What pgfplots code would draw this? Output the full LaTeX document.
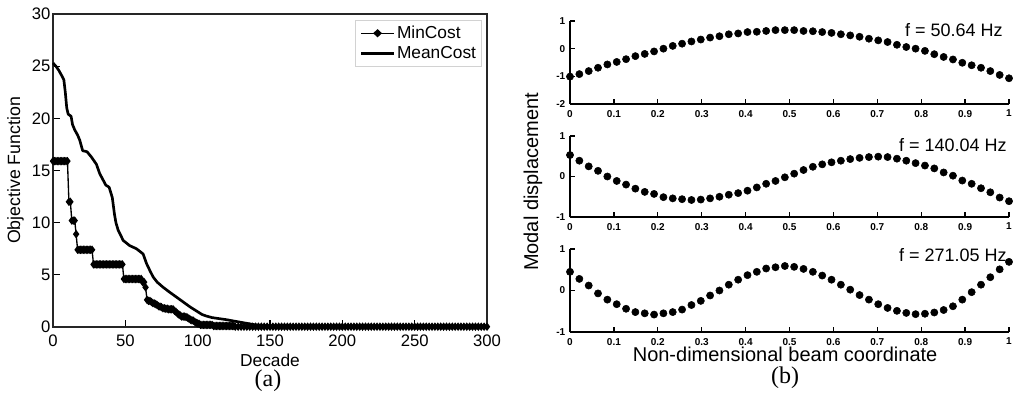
\documentclass[border=0pt]{standalone}
\usepackage{fontspec}
\setmainfont{Liberation Sans}
\newfontfamily\seriffont{Liberation Serif}
\usepackage{pgfplots}
\usepackage{pgfplotstable}
\pgfplotsset{compat=1.18}

\pgfplotstableread{
x m1 m2 m3
0 -1.01 0.53 0.45
0.0213 -0.92 0.39 0.28
0.0426 -0.81 0.25 0.12
0.0638 -0.69 0.14 -0.07
0.0851 -0.57 0.00 -0.22
0.1064 -0.48 -0.11 -0.33
0.1277 -0.38 -0.20 -0.44
0.1489 -0.27 -0.30 -0.52
0.1702 -0.19 -0.38 -0.55
0.1915 -0.10 -0.43 -0.58
0.2128 0.00 -0.51 -0.55
0.2340 0.10 -0.54 -0.52
0.2553 0.18 -0.56 -0.46
0.2766 0.26 -0.58 -0.35
0.2979 0.33 -0.57 -0.25
0.3191 0.40 -0.54 -0.12
0.3404 0.45 -0.50 0.00
0.3617 0.52 -0.45 0.14
0.3830 0.55 -0.41 0.26
0.4043 0.60 -0.35 0.37
0.4255 0.61 -0.27 0.45
0.4468 0.64 -0.18 0.53
0.4681 0.67 -0.11 0.56
0.4894 0.67 -0.02 0.59
0.5106 0.67 0.07 0.57
0.5319 0.64 0.16 0.52
0.5532 0.63 0.24 0.45
0.5745 0.60 0.30 0.36
0.5957 0.57 0.35 0.26
0.6170 0.52 0.39 0.14
0.6383 0.48 0.43 0.02
0.6596 0.43 0.46 -0.11
0.6809 0.36 0.48 -0.22
0.7021 0.30 0.49 -0.33
0.7234 0.24 0.48 -0.42
0.7447 0.14 0.44 -0.49
0.7660 0.06 0.39 -0.54
0.7872 0.00 0.33 -0.57
0.8085 -0.08 0.27 -0.56
0.8298 -0.20 0.20 -0.53
0.8511 -0.30 0.10 -0.47
0.8723 -0.39 0.02 -0.38
0.8936 -0.51 -0.10 -0.22
0.9149 -0.60 -0.18 -0.04
0.9362 -0.69 -0.29 0.14
0.9574 -0.81 -0.39 0.32
0.9787 -0.95 -0.52 0.51
1 -1.07 -0.61 0.69
}\modes

\pgfplotsset{
  beam/.style={
    scale only axis, width=329.25pt, height=62.25pt,
    xmin=0, xmax=1, clip=false,
    axis lines*=left,
    axis line style={line width=1.3pt},
    major tick style={line width=1pt, black},
    tick align=inside,
    major tick length=3.5pt,
    xtick={0,0.1,0.2,0.3,0.4,0.5,0.6,0.7,0.8,0.9,1},
    xticklabels={0,0.1,0.2,0.3,0.4,0.5,0.6,0.7,0.8,0.9,1},
    xticklabel style={font=\bfseries\fontsize{7.5}{8}\selectfont, yshift=-1pt},
    yticklabel style={font=\bfseries\fontsize{7.5}{8}\selectfont},
  },
  dots/.style={only marks, mark=*, mark size=2.7pt, black},
}
\tikzset{ftext/.style={anchor=east, inner sep=0pt, font=\fontsize{13.5}{15}\selectfont}}

\begin{document}
\begin{tikzpicture}
\path[use as bounding box] (0pt,0pt) rectangle (764.25pt,-296.25pt);

% ---------------- (a) ----------------
\begin{axis}[
  at={(39.75pt,-245.25pt)}, anchor=south west,
  scale only axis, width=325.5pt, height=234.75pt,
  xmin=0, xmax=300, ymin=0, ymax=30, clip=false,
  xtick={0,50,100,150,200,250,300},
  ytick={0,5,10,15,20,25,30},
  xtick pos=bottom, ytick pos=left,
  tick align=inside,
  axis line style={line width=1pt, black!85},
  major tick style={line width=0.8pt, black},
  major tick length=5pt,
  /pgf/number format/assume math mode=true,
  xticklabel style={font=\fontsize{12.5}{14}\selectfont, yshift=-2pt},
  yticklabel style={font=\fontsize{12.5}{14}\selectfont, xshift=1.5pt},
  xlabel={Decade},
  ylabel={\fontsize{13.3}{15}\selectfont Objective Function},
  xlabel style={at={(axis description cs:0.5,-0.1054)}, anchor=center, font=\fontsize{13}{15}\selectfont},
  ylabel style={at={(axis description cs:-0.0864,0.5)}, anchor=center},
  legend style={at={(axis description cs:0.9885,0.981)}, anchor=north east,
    draw=gray!35, line width=0.6pt, font=\fontsize{13}{15}\selectfont,
    row sep=2pt, inner xsep=3pt, inner ysep=3pt,
    nodes={inner sep=1.2pt}},
  legend cell align=left,
  legend image post style={xscale=1.45},
]
\addplot[black, line width=1pt, mark=diamond*, mark size=2.4pt] coordinates {
(0,15.9)(1,15.9)(2,15.9)(3,15.9)(4,15.9)(5,15.9)(6,15.9)(7,15.9)(8,15.9)(9,15.9)(10,15.9)
(11,12.0)(12,12.0)(13,10.2)(14,10.2)(15,10.2)(16,8.9)
(17,7.4)(18,7.4)(19,7.4)(20,7.4)(21,7.4)(22,7.4)(23,7.4)(24,7.4)(25,7.4)(26,7.4)(27,7.4)
(28,6.0)(29,6.0)(30,6.0)(31,6.0)(32,6.0)(33,6.0)(34,6.0)(35,6.0)(36,6.0)(37,6.0)(38,6.0)
(39,6.0)(40,6.0)(41,6.0)(42,6.0)(43,6.0)(44,6.0)(45,6.0)(46,6.0)(47,6.0)(48,6.0)
(49,4.6)(50,4.6)(51,4.6)(52,4.6)(53,4.6)(54,4.6)(55,4.6)(56,4.6)(57,4.6)(58,4.6)(59,4.6)(60,4.6)(61,4.6)
(62,4.3)(63,4.3)(64,3.8)(65,2.6)(66,2.5)(67,2.5)(68,2.4)(69,2.3)(70,2.25)(71,2.2)(72,2.1)(73,2.0)
(74,1.95)(75,1.9)(76,1.8)(77,1.8)(78,1.75)(79,1.75)(80,1.7)(81,1.7)(82,1.7)(83,1.7)(84,1.55)
(85,1.45)(86,1.3)(87,1.2)(88,1.1)(89,1.0)(90,1.0)(91,1.0)(92,0.95)(93,0.9)(94,0.8)(95,0.7)
(96,0.65)(97,0.6)(98,0.5)(99,0.4)(100,0.35)(101,0.3)
(102,0.2)(103,0.2)(104,0.2)(105,0.2)(106,0.2)(107,0.2)(108,0.2)(109,0.2)(110,0.2)
(111,0.1)(112,0.1)(113,0.1)(114,0.1)(115,0.1)(116,0.1)(117,0.1)(118,0.1)(119,0.1)(120,0.1)
(121,0.1)(122,0.1)(123,0.1)(124,0.1)(125,0.1)
(126,0.03)(128,0.03)(130,0.03)(132,0.03)(134,0.03)(136,0.03)(138,0.03)(140,0.03)(142,0.03)(144,0.03)
(146,0.03)(148,0.03)(150,0.03)(152,0.03)(154,0.03)(156,0.03)(158,0.03)(160,0.03)(162,0.03)(164,0.03)
(166,0.03)(168,0.03)(170,0.03)(172,0.03)(174,0.03)(176,0.03)(178,0.03)(180,0.03)(182,0.03)(184,0.03)
(186,0.03)(188,0.03)(190,0.03)(192,0.03)(194,0.03)(196,0.03)(198,0.03)(200,0.03)(202,0.03)(204,0.03)
(206,0.03)(208,0.03)(210,0.03)(212,0.03)(214,0.03)(216,0.03)(218,0.03)(220,0.03)(222,0.03)(224,0.03)
(226,0.03)(228,0.03)(230,0.03)(232,0.03)(234,0.03)(236,0.03)(238,0.03)(240,0.03)(242,0.03)(244,0.03)
(246,0.03)(248,0.03)(250,0.03)(252,0.03)(254,0.03)(256,0.03)(258,0.03)(260,0.03)(262,0.03)(264,0.03)
(266,0.03)(268,0.03)(270,0.03)(272,0.03)(274,0.03)(276,0.03)(278,0.03)(280,0.03)(282,0.03)(284,0.03)
(286,0.03)(288,0.03)(290,0.03)(292,0.03)(294,0.03)(296,0.03)(298,0.03)(300,0.03)
};
\addlegendentry{MinCost}
\addplot[black, line width=2pt, line join=round] coordinates {
(0,25.3)(2,25.0)(4,24.6)(6,24.1)(7.5,23.7)(8.5,22.5)(9.5,21.0)(10.5,20.4)(12.5,20.2)(13.5,19.4)
(15,18.9)(17,18.4)(18.5,17.9)(20.5,16.9)(23.5,16.8)(26.5,16.3)(30,15.6)(32.3,14.7)(34.6,14.1)
(36.5,13.6)(38.8,13.4)(41,12.4)(42.5,10.8)(43.5,10.0)(45,9.3)(48.5,8.3)(53,7.8)(57.7,7.5)
(62.3,7.0)(64.6,6.1)(67,5.4)(69.2,4.8)(72,4.3)(76.2,3.8)(80,3.4)(83,3.1)(87,2.7)(90,2.4)
(95,1.9)(99,1.55)(103,1.2)(106,1.05)(110,0.9)(115,0.8)(120,0.7)(124.6,0.58)(130,0.45)
(134,0.35)(140,0.2)(145,0.12)(152,0.07)(160,0.05)(200,0.04)(250,0.03)(300,0.03)
};
\addlegendentry{MeanCost}
\end{axis}

% ---------------- (b) ----------------
\begin{axis}[beam, at={(427.5pt,-78pt)}, anchor=south west,
  ymin=-2, ymax=1, ytick={-2,-1,0,1}, yticklabels={-2,-1,0,1}]
\addplot[dots] table[x=x, y=m1] {\modes};
\node[ftext] at (rel axis cs:0.9863,0.8916) {f = 50.64 Hz};
\end{axis}

\begin{axis}[beam, at={(427.5pt,-162.75pt)}, anchor=south west, height=60.75pt,
  ymin=-1, ymax=1, ytick={-1,0,1}, yticklabels={-1,0,1}]
\addplot[dots] table[x=x, y=m2] {\modes};
\node[ftext] at (rel axis cs:0.9954,0.889) {f = 140.04 Hz};
\end{axis}

\begin{axis}[beam, at={(427.5pt,-249pt)}, anchor=south west,
  ymin=-1, ymax=1, ytick={-1,0,1}, yticklabels={-1,0,1},
  xlabel={Non-dimensional beam coordinate},
  xlabel style={at={(axis description cs:0.49,-0.265)}, anchor=center,
    font=\fontsize{15}{17}\selectfont}]
\addplot[dots] table[x=x, y=m3] {\modes};
\node[ftext] at (rel axis cs:0.9954,0.928) {f = 271.05 Hz};
\end{axis}

\node[rotate=90, font=\fontsize{15}{17}\selectfont] at (399.75pt,-136.5pt) {Modal displacement};
\node[font=\seriffont\fontsize{18}{20}\selectfont] at (201pt,-285.5pt) {(a)};
\node[font=\seriffont\fontsize{18}{20}\selectfont] at (588.75pt,-283.5pt) {(b)};
\end{tikzpicture}
\end{document}
